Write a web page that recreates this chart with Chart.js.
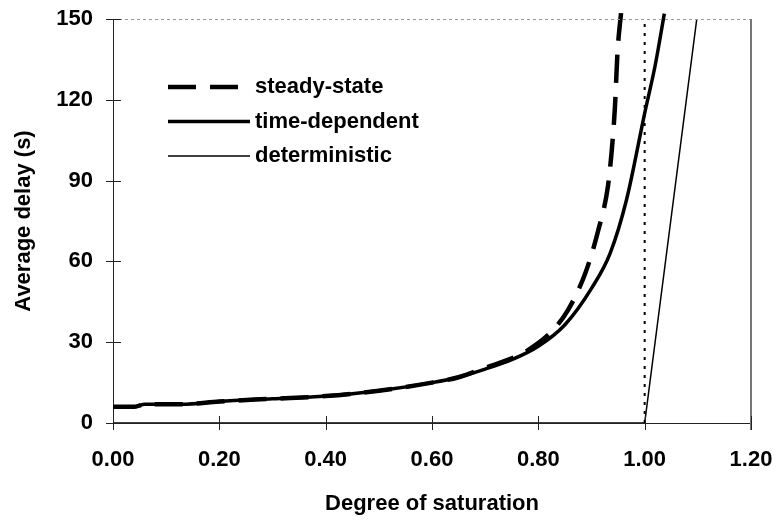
<!DOCTYPE html>
<html>
<head>
<meta charset="utf-8">
<script src="https://cdn.jsdelivr.net/npm/chart.js@4/dist/chart.umd.min.js"></script>
<style>
  html, body { margin: 0; padding: 0; background: #fff; }
  #wrap { width: 777px; height: 520px; }
</style>
</head>
<body>
<div id="wrap"><canvas id="delayChart" width="777" height="520"></canvas></div>
<script>
// values
const xTickValues = [0, 0.2, 0.4, 0.6, 0.8, 1.0, 1.2];
const xTickLabels = ['0.00', '0.20', '0.40', '0.60', '0.80', '1.00', '1.20'];
const yTickValues = [0, 30, 60, 90, 120, 150];

const steadyX = [0, 0.04, 0.06, 0.13, 0.2, 0.3, 0.4, 0.5, 0.6, 0.65, 0.7, 0.75, 0.78, 0.825, 0.856, 0.889, 0.912, 0.931, 0.938, 0.944, 0.949, 0.956];
const steadyY = [6, 6, 7, 7, 8, 9, 10, 12, 15, 17, 20.5, 24, 27, 34, 42, 56, 71, 88, 101, 117, 138, 153];

const timeDepX = [0, 0.04, 0.06, 0.13, 0.2, 0.3, 0.4, 0.5, 0.6, 0.65, 0.7, 0.75, 0.8, 0.85, 0.9, 0.935, 0.966, 1.0, 1.02, 1.037];
const timeDepY = [6, 6, 7, 7, 8, 9, 10, 12, 15, 17, 20, 23.5, 28.5, 36.5, 50, 63, 83, 115, 133, 152];

const determX = [0, 1.0, 1.098];
const determY = [0, 0, 150];

const capacityX = [1.0, 1.0];
const capacityY = [0, 150];

const FONT = '"Liberation Sans", Arial, sans-serif';

function toPoints(xs, ys) {
    return xs.map((x, i) => ({ x: x, y: ys[i] }));
}

function noAutoPadding(scale) {
    scale.paddingTop = 0;
    scale.paddingBottom = 0;
    scale.paddingLeft = 0;
    scale.paddingRight = 0;
}

// ticks that cross the axis lines, plus the grey frame on top/right
const frameAndTicks = {
    id: 'frameAndTicks',
    afterDatasetsDraw(chart) {
        const ctx = chart.ctx;
        const area = chart.chartArea;
        const xs = chart.scales.x;
        const ys = chart.scales.y;
        ctx.save();
        ctx.strokeStyle = '#999';
        ctx.lineWidth = 1;
        ctx.setLineDash([3, 3]);
        ctx.beginPath();
        ctx.moveTo(area.left, area.top + 0.5);
        ctx.lineTo(area.right, area.top + 0.5);
        ctx.stroke();
        ctx.setLineDash([]);
        ctx.strokeStyle = '#777';
        ctx.lineWidth = 2;
        ctx.beginPath();
        ctx.moveTo(area.right, area.top);
        ctx.lineTo(area.right, area.bottom + 7);
        ctx.stroke();

        ctx.strokeStyle = '#222';
        ctx.lineWidth = 1;
        ctx.beginPath();
        yTickValues.forEach(v => {
            const py = Math.round(ys.getPixelForValue(v)) + 0.5;
            ctx.moveTo(area.left - 7, py);
            ctx.lineTo(area.left + 8, py);
        });
        xTickValues.forEach(v => {
            const px = Math.round(xs.getPixelForValue(v)) + 0.5;
            ctx.moveTo(px, area.bottom - 7);
            ctx.lineTo(px, area.bottom + 7);
        });
        ctx.stroke();
        ctx.restore();
    }
};

// legend drawn inside the plot, like the original
const innerLegend = {
    id: 'innerLegend',
    afterDraw(chart) {
        const ctx = chart.ctx;
        const lineStart = 168, lineEnd = 250, textX = 255;
        let rowY = 87;
        ctx.save();
        chart.data.datasets.forEach(ds => {
            if (!ds.label) return;
            ctx.strokeStyle = ds.borderColor;
            ctx.lineWidth = ds.borderWidth;
            ctx.setLineDash(ds.borderDash || []);
            ctx.beginPath();
            ctx.moveTo(lineStart, rowY);
            ctx.lineTo(lineEnd, rowY);
            ctx.stroke();
            ctx.setLineDash([]);
            ctx.fillStyle = '#000';
            ctx.font = 'bold 22px ' + FONT;
            ctx.textBaseline = 'middle';
            ctx.textAlign = 'left';
            ctx.fillText(ds.label, textX, rowY);
            rowY += 34.5;
        });
        ctx.restore();
    }
};

const ctx = document.getElementById('delayChart').getContext('2d');
window.delayChart = new Chart(ctx, {
    type: 'line',
    data: {
        datasets: [
            {
                label: 'steady-state',
                data: toPoints(steadyX, steadyY),
                borderColor: '#000',
                borderWidth: 4.5,
                borderDash: [28, 14],
                cubicInterpolationMode: 'monotone',
                pointRadius: 0,
                clip: { left: 0, top: 10, right: 0, bottom: 0 }
            },
            {
                label: 'time-dependent',
                data: toPoints(timeDepX, timeDepY),
                borderColor: '#000',
                borderWidth: 3.5,
                cubicInterpolationMode: 'monotone',
                pointRadius: 0,
                clip: { left: 0, top: 10, right: 0, bottom: 0 }
            },
            {
                label: 'deterministic',
                data: toPoints(determX, determY),
                borderColor: '#000',
                borderWidth: 1.5,
                tension: 0,
                pointRadius: 0
            },
            {
                label: '',
                data: toPoints(capacityX, capacityY),
                borderColor: '#000',
                borderWidth: 2,
                borderDash: [3, 6],
                pointRadius: 0
            }
        ]
    },
    options: {
        responsive: false,
        animation: false,
        layout: { padding: { top: 19, right: 26, left: 0, bottom: 0 } },
        plugins: {
            legend: { display: false },
            tooltip: { enabled: false }
        },
        scales: {
            x: {
                type: 'linear',
                min: 0,
                max: 1.2,
                afterBuildTicks: scale => { scale.ticks = xTickValues.map(v => ({ value: v })); },
                afterFit: scale => { scale.height = 97; noAutoPadding(scale); },
                grid: { display: false, drawTicks: false },
                border: { display: true, color: '#222', width: 1 },
                ticks: {
                    padding: 24,
                    color: '#000',
                    maxRotation: 0,
                    font: { family: FONT, size: 22, weight: 'bold' },
                    callback: (v) => xTickLabels[xTickValues.indexOf(v)]
                },
                title: {
                    display: true,
                    text: 'Degree of saturation',
                    color: '#000',
                    font: { family: FONT, size: 22, weight: 'bold' },
                    padding: { top: 0, bottom: 3 }
                }
            },
            y: {
                type: 'linear',
                min: 0,
                max: 150,
                afterBuildTicks: scale => { scale.ticks = yTickValues.map(v => ({ value: v })); },
                afterFit: scale => { scale.width = 113; noAutoPadding(scale); },
                grid: { display: false, drawTicks: false },
                border: { display: true, color: '#222', width: 1 },
                ticks: {
                    padding: 20,
                    color: '#000',
                    font: { family: FONT, size: 22, weight: 'bold' }
                },
                title: {
                    display: true,
                    text: 'Average delay (s)',
                    color: '#000',
                    font: { family: FONT, size: 22, weight: 'bold' },
                    padding: { top: 11, bottom: 0 }
                }
            }
        }
    },
    plugins: [frameAndTicks, innerLegend]
});
</script>
</body>
</html>
